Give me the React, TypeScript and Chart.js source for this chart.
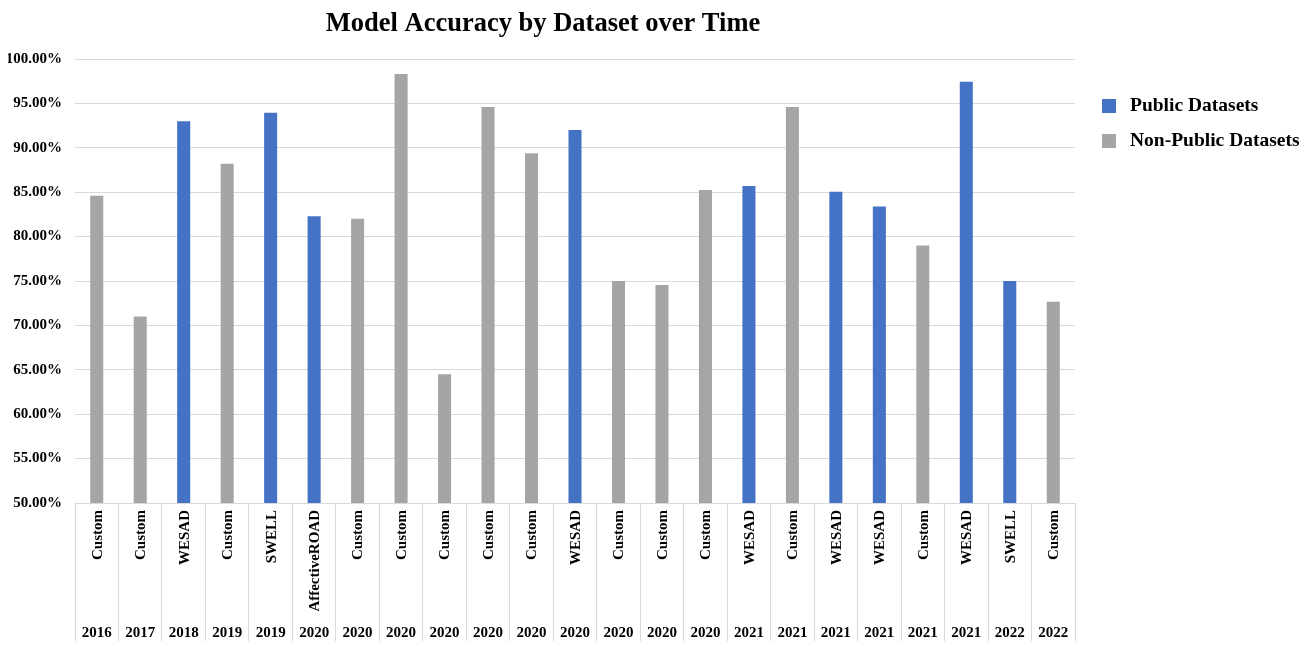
import React, { useEffect, useRef } from "react";
import { Chart, registerables } from "chart.js";

Chart.register(...registerables);

const chartTitle = "Model Accuracy by Dataset over Time";
const datasetNames = [
  "Custom", "Custom", "WESAD", "Custom", "SWELL", "AffectiveROAD", "Custom", "Custom",
  "Custom", "Custom", "Custom", "WESAD", "Custom", "Custom", "Custom", "WESAD",
  "Custom", "WESAD", "WESAD", "Custom", "WESAD", "SWELL", "Custom",
];
const years = [
  "2016", "2017", "2018", "2019", "2019", "2020", "2020", "2020",
  "2020", "2020", "2020", "2020", "2020", "2020", "2020", "2021",
  "2021", "2021", "2021", "2021", "2021", "2022", "2022",
];
const accuracy = [
  84.6, 71.0, 93.0, 88.2, 93.95, 82.3, 82.0, 98.3,
  64.5, 94.6, 89.4, 92.0, 75.0, 74.55, 85.25, 85.7,
  94.6, 85.05, 83.4, 79.0, 97.45, 75.0, 72.65,
];
const isPublic = [
  false, false, true, false, true, true, false, false,
  false, false, false, true, false, false, false, true,
  false, true, true, false, true, true, false,
];
const seriesNames = ["Public Datasets", "Non-Public Datasets"];
const seriesColors = ["#4472C4", "#A5A5A5"];
const yTicks = { min: 50, max: 100, step: 5 };

const SERIF = '"Liberation Serif", "Times New Roman", serif';

const publicValues = accuracy.map((v, i) => (isPublic[i] ? v : null));
const nonPublicValues = accuracy.map((v, i) => (isPublic[i] ? null : v));

const decorPlugin = {
  id: "decor",
  afterDraw(chart: any) {
    const ctx = chart.ctx as CanvasRenderingContext2D;
    const xs = chart.scales.x;
    const axisTop = chart.chartArea.bottom;
    ctx.save();
    ctx.fillStyle = "#000";
    // category labels (rotated dataset names + years)
    ctx.font = `bold 15px ${SERIF}`;
    datasetNames.forEach((name, i) => {
      const px = xs.getPixelForValue(i);
      ctx.save();
      ctx.translate(px + 1, axisTop + 7);
      ctx.rotate(-Math.PI / 2);
      ctx.textAlign = "right";
      ctx.textBaseline = "middle";
      ctx.fillText(name, 0, 0);
      ctx.restore();
      ctx.textAlign = "center";
      ctx.textBaseline = "alphabetic";
      ctx.fillText(years[i], px, axisTop + 134);
    });
    // title
    ctx.font = `bold 26.5px ${SERIF}`;
    ctx.textAlign = "center";
    ctx.textBaseline = "alphabetic";
    ctx.fillText(chartTitle, 543, 31);
    // legend
    ctx.font = `bold 19.5px ${SERIF}`;
    ctx.textAlign = "left";
    ctx.textBaseline = "middle";
    seriesNames.forEach((s, i) => {
      const cy = 106 + i * 35;
      ctx.fillStyle = seriesColors[i];
      ctx.fillRect(1102, cy - 7, 14, 14);
      ctx.fillStyle = "#000";
      ctx.fillText(s, 1130, cy);
    });
    ctx.restore();
  },
};

export default function App() {
  const ref = useRef<HTMLCanvasElement>(null);
  useEffect(() => {
    const chart = new Chart(ref.current as HTMLCanvasElement, {
      type: "bar",
      data: {
        labels: datasetNames.map((n, i) => `${n} ${years[i]}`),
        datasets: [
          {
            label: seriesNames[0],
            data: publicValues as any,
            backgroundColor: seriesColors[0],
            grouped: false,
            barPercentage: 0.3,
            categoryPercentage: 1,
          } as any,
          {
            label: seriesNames[1],
            data: nonPublicValues as any,
            backgroundColor: seriesColors[1],
            grouped: false,
            barPercentage: 0.3,
            categoryPercentage: 1,
          } as any,
        ],
      },
      options: {
        animation: false,
        responsive: true,
        maintainAspectRatio: false,
        layout: { padding: { left: 0, right: 234, top: 59, bottom: 8 } },
        plugins: {
          legend: { display: false },
          title: { display: false },
          tooltip: { enabled: false },
        },
        scales: {
          x: {
            type: "category",
            offset: true,
            grid: {
              offset: true,
              drawOnChartArea: false,
              drawTicks: true,
              tickLength: 138,
              color: "#d9d9d9",
            },
            border: { display: true, color: "#d9d9d9" },
            ticks: { display: false },
          },
          y: {
            min: yTicks.min,
            max: yTicks.max,
            afterFit: (scale: any) => {
              scale.width = 75;
            },
            ticks: {
              stepSize: yTicks.step,
              padding: 13,
              color: "#000",
              font: { family: SERIF, size: 15, weight: "bold" },
              callback: (v: any) => `${Number(v).toFixed(2)}%`,
            },
            grid: { color: "#d9d9d9", drawTicks: false },
            border: { display: false },
          },
        },
      },
      plugins: [decorPlugin],
    });
    return () => chart.destroy();
  }, []);
  return (
    <div style={{ position: "relative", width: 1309, height: 649, margin: -8 }}>
      <canvas ref={ref} />
    </div>
  );
}
